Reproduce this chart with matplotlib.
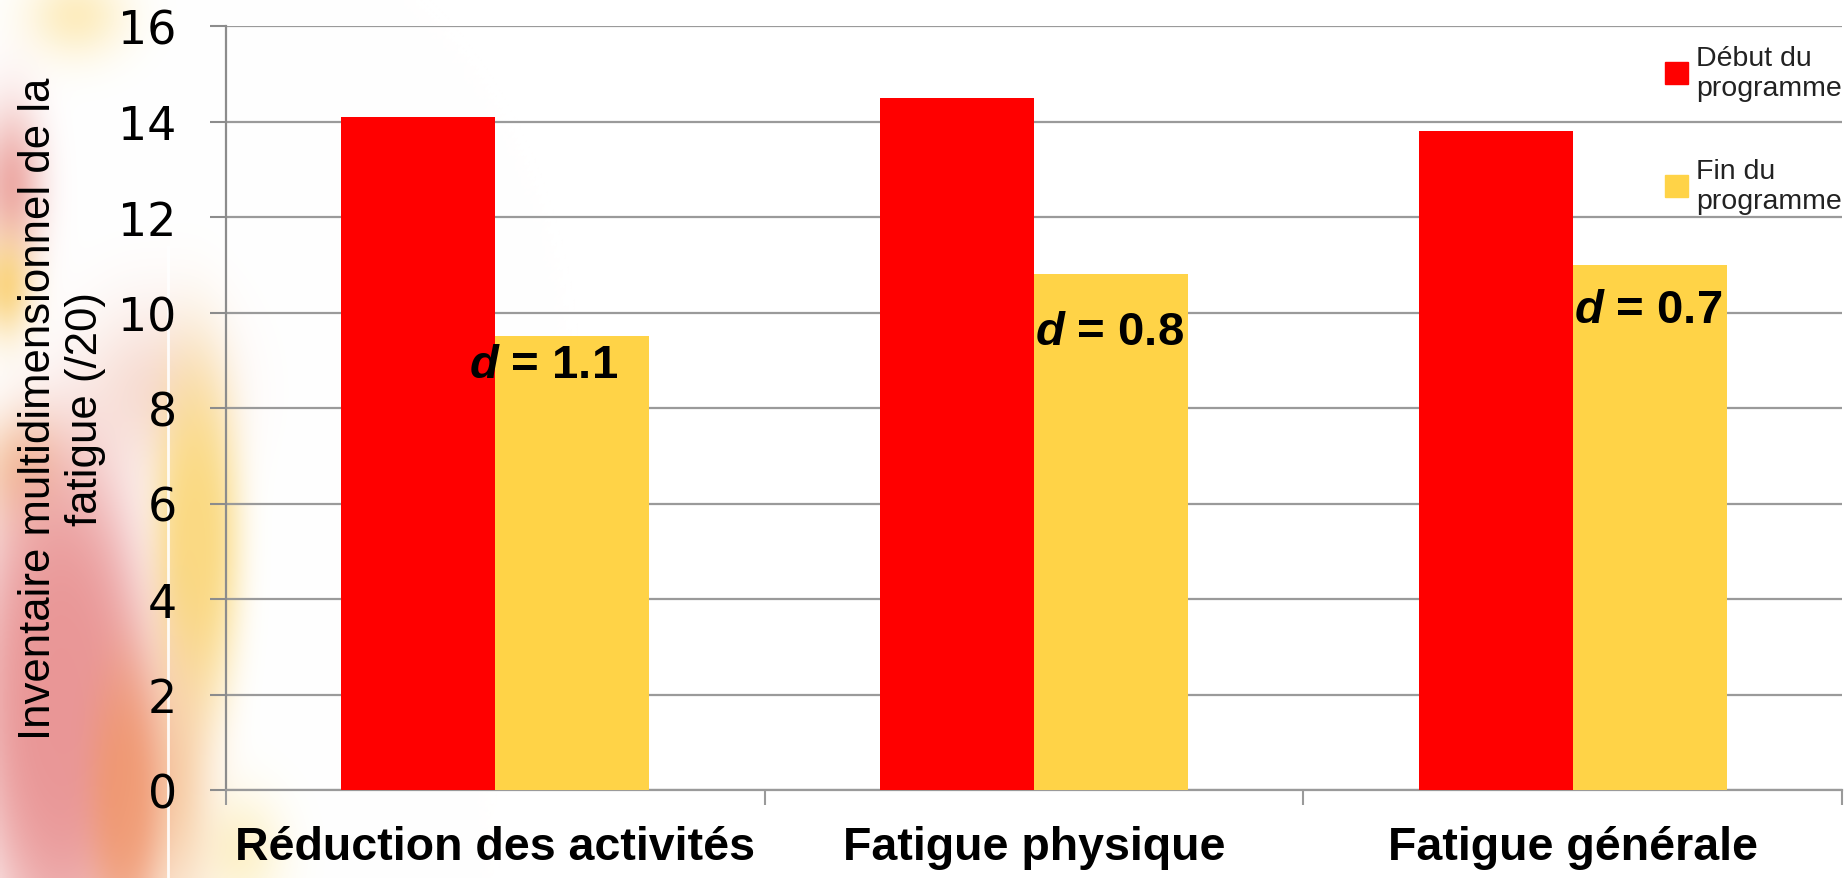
import numpy as np
import matplotlib
matplotlib.use('Agg')
import matplotlib.pyplot as plt
from matplotlib import font_manager
from matplotlib.patches import Patch

# Données
categories = ['Réduction des activités', 'Fatigue physique', 'Fatigue générale']
debut = [14.1, 14.5, 13.8]   # Début du programme
fin = [9.5, 10.8, 11.0]      # Fin du programme
series_labels = ['Début du\nprogramme', 'Fin du\nprogramme']
d_values = ['1.1', '0.8', '0.7']
y_ticks = [0, 2, 4, 6, 8, 10, 12, 14, 16]

# position des étiquettes "d = ..." (x, y en unités des données)
d_pos = [(0.09, 8.9), (1.14, 9.6), (2.14, 10.05)]

noms = {f.name for f in font_manager.fontManager.ttflist}
narrow = 'Liberation Sans Narrow' if 'Liberation Sans Narrow' in noms else 'Liberation Sans'

plt.rcParams['mathtext.fontset'] = 'custom'
plt.rcParams['mathtext.bfit'] = 'Liberation Sans:italic:bold'
plt.rcParams['mathtext.rm'] = 'Liberation Sans'

W, H = 1845, 879
fig = plt.figure(figsize=(W / 100, H / 100), dpi=100)

# fond dégradé à gauche (décor)
bg = fig.add_axes([0, 0, 1, 1], zorder=-10)
yy, xx = np.mgrid[0:H:3, 0:W:3].astype(float)
img = np.ones(yy.shape + (3,))
taches = [
    # x, y, sx, sy, puissance, couleur, force
    (75, 15, 35, 30, 1, (0.99, 0.90, 0.65), 0.7),
    (150, 390, 50, 60, 1, (0.95, 0.78, 0.72), 0.6),
    (10, 185, 22, 55, 1, (0.92, 0.62, 0.60), 0.85),
    (5, 285, 18, 35, 1, (0.98, 0.82, 0.45), 0.85),
    (240, 850, 30, 40, 1, (0.99, 0.93, 0.72), 0.7),
    (195, 540, 35, 140, 1.5, (0.98, 0.84, 0.46), 0.9),
    (175, 780, 25, 100, 1, (0.96, 0.75, 0.55), 0.7),
    (20, 470, 30, 40, 1, (0.96, 0.74, 0.52), 0.7),
    (60, 700, 75, 220, 2, (0.91, 0.57, 0.57), 0.95),
    (125, 800, 30, 110, 1.5, (0.94, 0.58, 0.40), 0.8),
]
for x0, y0, sx, sy, p, col, force in taches:
    r2 = ((xx - x0) / sx) ** 2 + ((yy - y0) / sy) ** 2
    w = force * np.exp(-0.5 * r2 ** p)
    img = img * (1 - w[..., None]) + np.array(col) * w[..., None]
bg.imshow(img, extent=[0, W, H, 0], aspect='auto', interpolation='bilinear')
bg.plot([168, 168], [248, H], color='white', lw=2, alpha=0.9)
bg.set_xlim(0, W)
bg.set_ylim(H, 0)
bg.axis('off')

ax = fig.add_axes([226 / W, 1 - 791 / H, (1842 - 226) / W, (791 - 27) / H])
ax.patch.set_alpha(0)

x = np.arange(len(categories))
larg = 1 / 3.5
ax.bar(x - larg / 2, debut, larg, color='#FF0000', zorder=3)
ax.bar(x + larg / 2, fin, larg, color='#FFD347', zorder=3)

ax.set_xlim(-0.5, len(categories) - 0.5)
ax.set_ylim(0, 16)
ax.set_yticks(y_ticks)
ax.yaxis.grid(True, color='#9a9a9a', lw=1.6)
ax.set_axisbelow(True)

for s in ['top', 'right']:
    ax.spines[s].set_visible(False)
ax.spines['left'].set_color('#8c8c8c')
ax.spines['left'].set_linewidth(1.6)
ax.spines['bottom'].set_color('#9a9a9a')
ax.spines['bottom'].set_linewidth(1.6)

ax.tick_params(axis='y', length=11.5, width=1.5, color='#8c8c8c', labelsize=33, pad=24)
for lab in ax.get_yticklabels():
    lab.set_family('DejaVu Sans')

ax.set_xticks(np.arange(len(categories) + 1) - 0.5)
ax.set_xticklabels([])
ax.set_xticks(x, minor=True)
ax.set_xticklabels(categories, minor=True, fontsize=33.5, fontweight='bold', family='Liberation Sans')
ax.tick_params(axis='x', which='major', length=11, width=1.5, color='#9a9a9a')
ax.tick_params(axis='x', which='minor', length=0, pad=25)

for (px, py), d in zip(d_pos, d_values):
    ax.text(px, py, r'$\mathbfit{d}$ = ' + d, ha='center', va='center', fontsize=34,
            fontweight='bold', family='Liberation Sans', zorder=5)

poignees = [Patch(color='#FF0000'), Patch(color='#FFD347')]
ax.legend(poignees, series_labels, loc='upper left', bbox_to_anchor=(1665 / W, 1 - 46 / H),
          bbox_transform=fig.transFigure, frameon=False, borderpad=0, borderaxespad=0,
          handlelength=0.8, handleheight=0.8, handletextpad=0.3, labelspacing=2.0,
          prop={'family': 'Liberation Sans', 'size': 20.5}, labelcolor='#222222')

fig.text(62 / W, 0.535, 'Inventaire multidimensionnel de la\nfatigue (/20)', rotation=90,
         ha='center', va='center', multialignment='center', fontsize=31.5, family=narrow,
         linespacing=1.2)

fig.savefig('out.png', dpi=100)
